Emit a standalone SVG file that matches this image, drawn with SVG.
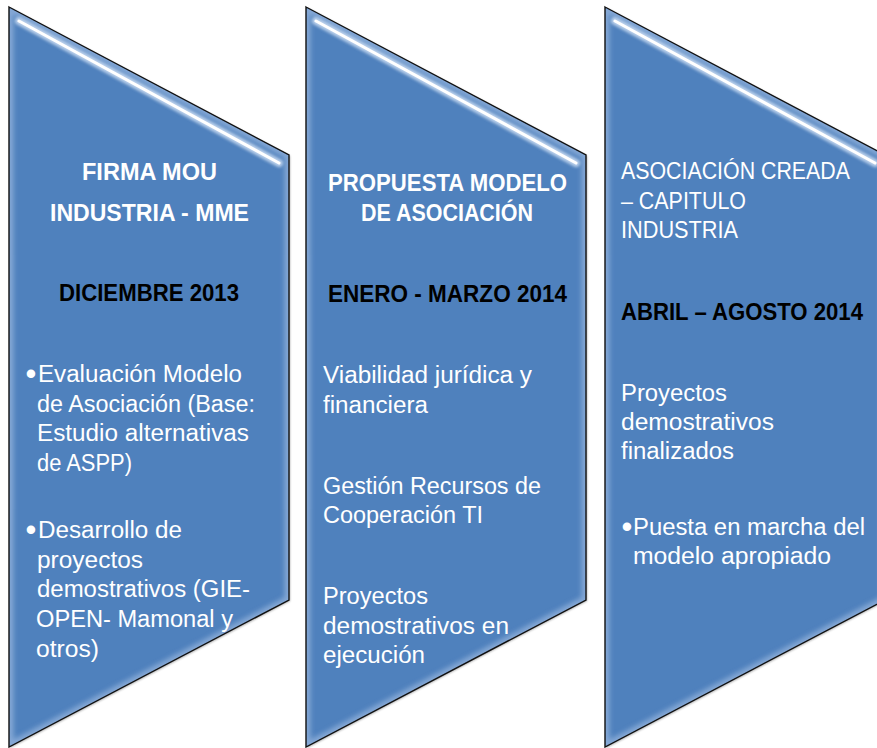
<svg xmlns="http://www.w3.org/2000/svg" xmlns:xlink="http://www.w3.org/1999/xlink" width="877" height="748" viewBox="0 0 877 748">
  <defs>
    <path id="chev" d="M0,0 L280,148 L280,593 L0,740 Z"/>
    <clipPath id="chevClip">
      <path d="M0,0 L280,148 L280,593 L0,740 Z"/>
    </clipPath>
    <filter id="blurEdge" x="-10%" y="-10%" width="120%" height="120%">
      <feGaussianBlur stdDeviation="2.5"/>
    </filter>
    <filter id="blurHl" x="-10%" y="-50%" width="120%" height="200%">
      <feGaussianBlur stdDeviation="1.6"/>
    </filter>
    <filter id="blurThin" x="-10%" y="-50%" width="120%" height="200%">
      <feGaussianBlur stdDeviation="0.6"/>
    </filter>
    <filter id="shadow" x="-5%" y="-5%" width="110%" height="110%">
      <feDropShadow dx="1" dy="1" stdDeviation="1.2" flood-color="#000" flood-opacity="0.35"/>
    </filter>
  </defs>
  <style>
    .body { fill: #4F81BD; }
    .edge { fill: none; stroke: #9CB9E0; stroke-width: 9; opacity: 0.7; }
    .outline { fill: none; stroke: #111; stroke-width: 1.4; stroke-linejoin: miter; }
    .hlGlow { stroke: #C5D8F0; stroke-width: 8; stroke-linecap: round; opacity: 0.9; }
    .hlLine { stroke: #FFFFFF; stroke-width: 3; stroke-linecap: round; }
    text { font-family: "Liberation Sans", Arial, sans-serif; font-size: 23.5px; }
    .w { fill: #FFFFFF; }
    .k { fill: #000000; }
    .b { font-weight: bold; }
    .c { text-anchor: middle; }
    .bul { font-size: 31px; }
  </style>

  <g id="connectors"/>

  <!-- Node 1 -->
  <g id="node1">
    <g transform="translate(9,7)">
      <use xlink:href="#chev" href="#chev" class="body" filter="url(#shadow)"/>
      <g clip-path="url(#chevClip)">
        <use xlink:href="#chev" href="#chev" class="edge" filter="url(#blurEdge)"/>
        <line x1="10" y1="14" x2="270" y2="156" class="hlGlow" filter="url(#blurHl)"/>
        <line x1="10" y1="14" x2="270" y2="156" class="hlLine" filter="url(#blurThin)"/>
      </g>
      <use xlink:href="#chev" href="#chev" class="outline"/>
    </g>
    <text class="w b c" x="149.5" y="180" textLength="135" lengthAdjust="spacingAndGlyphs">FIRMA MOU</text>
    <text class="w b c" x="149.5" y="221" textLength="199" lengthAdjust="spacingAndGlyphs">INDUSTRIA - MME</text>
    <text class="k b c" x="149" y="301" textLength="180" lengthAdjust="spacingAndGlyphs">DICIEMBRE 2013</text>
    <text class="w" y="382"><tspan class="bul" x="25.5" y="384">•</tspan><tspan x="38" y="382" textLength="204" lengthAdjust="spacingAndGlyphs">Evaluación Modelo</tspan></text>
    <text class="w" x="37" y="411.5" textLength="218" lengthAdjust="spacingAndGlyphs">de Asociación (Base:</text>
    <text class="w" x="37" y="441" textLength="212" lengthAdjust="spacingAndGlyphs">Estudio alternativas</text>
    <text class="w" x="37" y="470.5" textLength="95" lengthAdjust="spacingAndGlyphs">de ASPP)</text>
    <text class="w" y="538"><tspan class="bul" x="25.5" y="540">•</tspan><tspan x="38" y="538" textLength="144" lengthAdjust="spacingAndGlyphs">Desarrollo de</tspan></text>
    <text class="w" x="37" y="567.5" textLength="106" lengthAdjust="spacingAndGlyphs">proyectos</text>
    <text class="w" x="37" y="597" textLength="213" lengthAdjust="spacingAndGlyphs">demostrativos (GIE-</text>
    <text class="w" x="36" y="627" textLength="197" lengthAdjust="spacingAndGlyphs">OPEN- Mamonal y</text>
    <text class="w" x="36" y="656.5" textLength="63" lengthAdjust="spacingAndGlyphs">otros)</text>
  </g>

  <!-- Node 2 -->
  <g id="node2">
    <g transform="translate(306,7)">
      <use xlink:href="#chev" href="#chev" class="body" filter="url(#shadow)"/>
      <g clip-path="url(#chevClip)">
        <use xlink:href="#chev" href="#chev" class="edge" filter="url(#blurEdge)"/>
        <line x1="10" y1="14" x2="270" y2="156" class="hlGlow" filter="url(#blurHl)"/>
        <line x1="10" y1="14" x2="270" y2="156" class="hlLine" filter="url(#blurThin)"/>
      </g>
      <use xlink:href="#chev" href="#chev" class="outline"/>
    </g>
    <text class="w b c" x="447.5" y="190.5" textLength="239" lengthAdjust="spacingAndGlyphs">PROPUESTA MODELO</text>
    <text class="w b c" x="447" y="221" textLength="172" lengthAdjust="spacingAndGlyphs">DE ASOCIACIÓN</text>
    <text class="k b c" x="447.5" y="302" textLength="239" lengthAdjust="spacingAndGlyphs">ENERO - MARZO 2014</text>
    <text class="w" x="323" y="383" textLength="209" lengthAdjust="spacingAndGlyphs">Viabilidad jurídica y</text>
    <text class="w" x="323" y="412.5" textLength="105" lengthAdjust="spacingAndGlyphs">financiera</text>
    <text class="w" x="323" y="494" textLength="218" lengthAdjust="spacingAndGlyphs">Gestión Recursos de</text>
    <text class="w" x="323" y="523" textLength="160" lengthAdjust="spacingAndGlyphs">Cooperación TI</text>
    <text class="w" x="323" y="604" textLength="105" lengthAdjust="spacingAndGlyphs">Proyectos</text>
    <text class="w" x="323" y="633.5" textLength="186" lengthAdjust="spacingAndGlyphs">demostrativos en</text>
    <text class="w" x="323" y="663" textLength="102" lengthAdjust="spacingAndGlyphs">ejecución</text>
  </g>

  <!-- Node 3 -->
  <g id="node3">
    <g transform="translate(605,7)">
      <use xlink:href="#chev" href="#chev" class="body" filter="url(#shadow)"/>
      <g clip-path="url(#chevClip)">
        <use xlink:href="#chev" href="#chev" class="edge" filter="url(#blurEdge)"/>
        <line x1="10" y1="14" x2="270" y2="156" class="hlGlow" filter="url(#blurHl)"/>
        <line x1="10" y1="14" x2="270" y2="156" class="hlLine" filter="url(#blurThin)"/>
      </g>
      <use xlink:href="#chev" href="#chev" class="outline"/>
    </g>
    <text class="w" x="621" y="179" textLength="229" lengthAdjust="spacingAndGlyphs">ASOCIACIÓN CREADA</text>
    <text class="w" x="621" y="208.5" textLength="125" lengthAdjust="spacingAndGlyphs">– CAPITULO</text>
    <text class="w" x="621" y="238" textLength="117" lengthAdjust="spacingAndGlyphs">INDUSTRIA</text>
    <text class="k b c" x="742" y="320" textLength="242" lengthAdjust="spacingAndGlyphs">ABRIL – AGOSTO 2014</text>
    <text class="w" x="621" y="400.5" textLength="106" lengthAdjust="spacingAndGlyphs">Proyectos</text>
    <text class="w" x="621" y="430" textLength="153" lengthAdjust="spacingAndGlyphs">demostrativos</text>
    <text class="w" x="621" y="459" textLength="113" lengthAdjust="spacingAndGlyphs">finalizados</text>
    <text class="w" y="535"><tspan class="bul" x="621.5" y="537">•</tspan><tspan x="633" y="535" textLength="232" lengthAdjust="spacingAndGlyphs">Puesta en marcha del</tspan></text>
    <text class="w" x="633" y="564" textLength="198" lengthAdjust="spacingAndGlyphs">modelo apropiado</text>
  </g>
</svg>
